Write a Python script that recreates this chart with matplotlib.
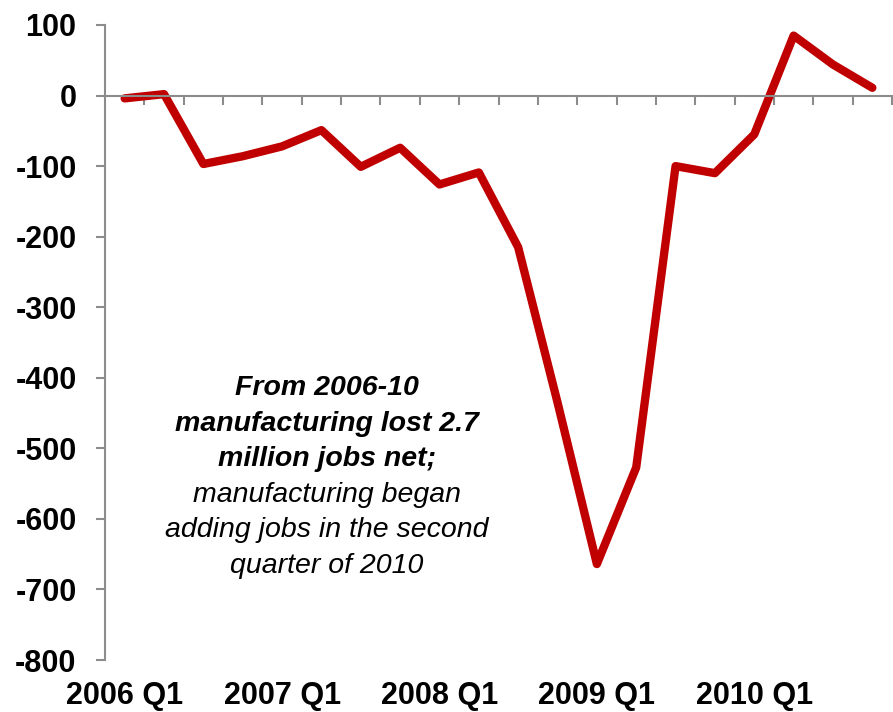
import matplotlib.pyplot as plt

# variatia trimestriala a locurilor de munca in manufactura (mii)
trimestre = ['2006 Q1', '2006 Q2', '2006 Q3', '2006 Q4',
             '2007 Q1', '2007 Q2', '2007 Q3', '2007 Q4',
             '2008 Q1', '2008 Q2', '2008 Q3', '2008 Q4',
             '2009 Q1', '2009 Q2', '2009 Q3', '2009 Q4',
             '2010 Q1', '2010 Q2', '2010 Q3', '2010 Q4']
valori = [-4, 2, -97, -86, -72, -49, -101, -74, -126, -109,
          -215, -435, -664, -527, -100, -110, -55, 85, 44, 11]

# doar primul trimestru din fiecare an apare ca eticheta
etichete_ani = ['2006 Q1', '2007 Q1', '2008 Q1', '2009 Q1', '2010 Q1']

nota_bold = ['From 2006-10', 'manufacturing lost 2.7', 'million jobs net;']
nota_normal = ['manufacturing began', 'adding jobs in the second', 'quarter of 2010']

plt.rcParams['font.family'] = ['Liberation Sans', 'DejaVu Sans']
gri = '#8c8c8c'

fig = plt.figure(figsize=(8.93, 7.12), dpi=100)
ax = fig.add_axes([105 / 893, 1 - 660 / 712, 787 / 893, 635 / 712])

x = list(range(len(trimestre)))
ax.plot(x, valori, color='#c00000', linewidth=6, solid_capstyle='round',
        solid_joinstyle='round')

ax.set_xlim(-0.5, len(trimestre) - 0.5)
ax.set_ylim(-800, 100)
ax.set_yticks(range(-800, 101, 100))
ax.set_yticklabels([str(v) for v in range(-800, 101, 100)],
                   fontsize=22, fontweight='bold')
ax.tick_params(axis='y', length=6.5, width=1.5, color=gri, pad=14)

# axa x trece prin zero, cu marcaje intre trimestre
for s in ['top', 'right']:
    ax.spines[s].set_visible(False)
ax.spines['left'].set_color(gri)
ax.spines['left'].set_linewidth(1.5)
ax.spines['bottom'].set_position(('data', 0))
ax.spines['bottom'].set_color(gri)
ax.spines['bottom'].set_linewidth(1.5)
ax.set_xticks([i + 0.5 for i in x])
ax.set_xticklabels([])
ax.tick_params(axis='x', length=6.5, width=1.5, color=gri, direction='out')

# etichetele anilor stau sub grafic
sec = ax.secondary_xaxis(0)
sec.set_xticks([trimestre.index(t) for t in etichete_ani])
sec.set_xticklabels(etichete_ani, fontsize=22, fontweight='bold')
sec.tick_params(length=0, pad=15)
sec.spines['bottom'].set_visible(False)

# nota explicativa
baza = 395
for i, rand in enumerate(nota_bold + nota_normal):
    yy = (660 - (baza + i * 35.6)) / 635
    ax.text(0.282, yy, rand, transform=ax.transAxes, ha='center', va='baseline',
            fontsize=20.5, style='italic',
            fontweight='bold' if rand in nota_bold else 'normal')

fig.savefig('out.png', dpi=100)
